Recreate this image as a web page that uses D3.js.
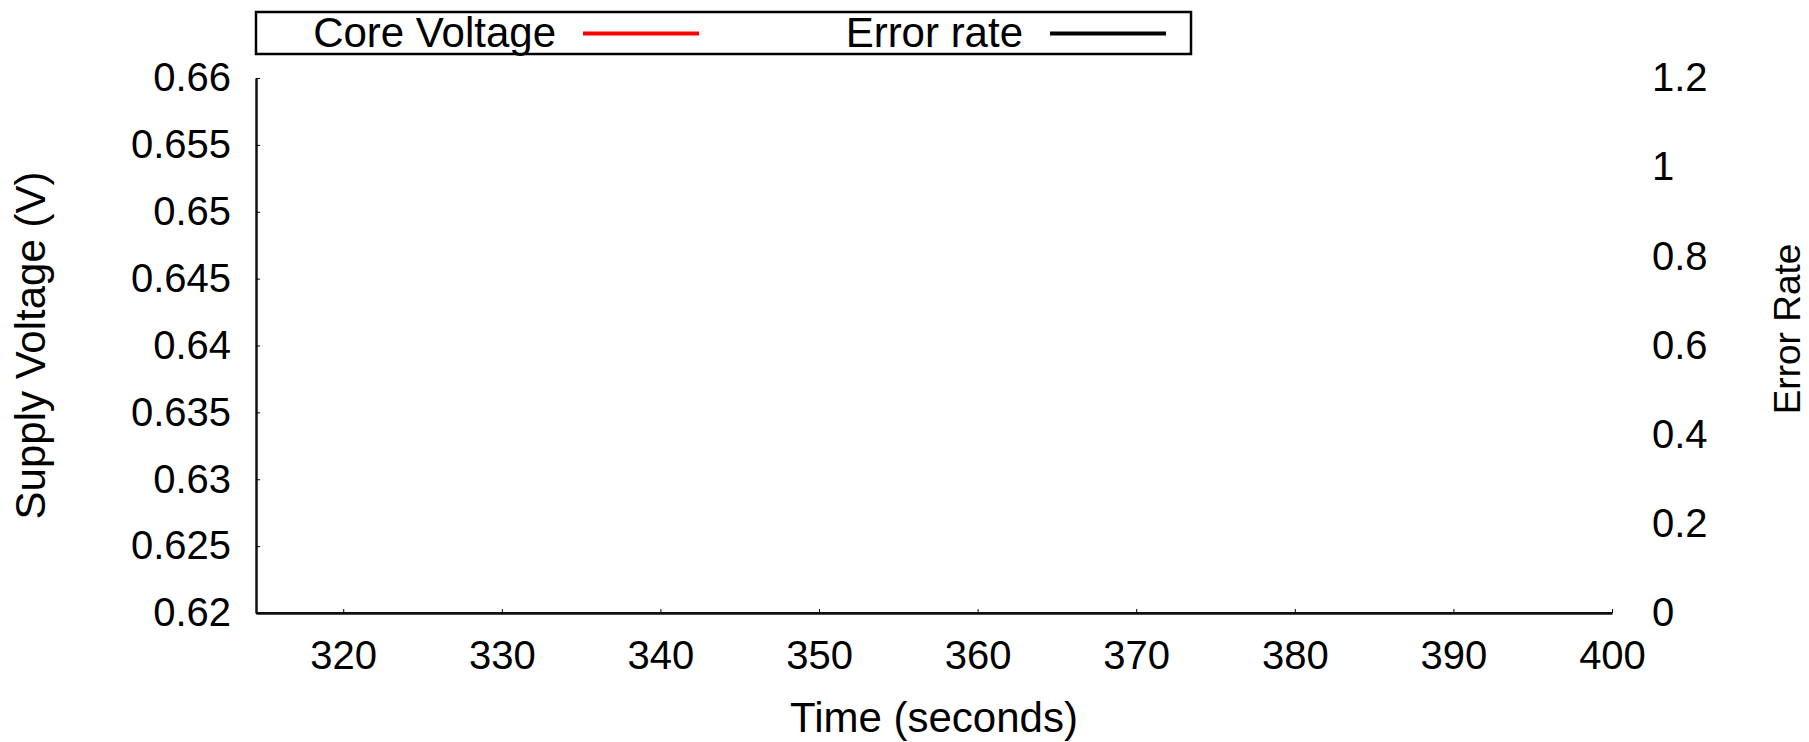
<!DOCTYPE html>
<html>
<head>
<meta charset="utf-8">
<script src="https://cdn.jsdelivr.net/npm/d3@7"></script>
<style>
  body { margin: 0; background: #fff; }
  text { font-family: "Liberation Sans", Arial, sans-serif; fill: #000; }
</style>
</head>
<body>
<svg id="chart"></svg>
<script>
// data (both series sit on the axes, nearly invisible)
var voltTime = [314.5, 314.5];
var voltValue = [0.655, 0.650];
var errTime = [314.5, 400];
var errValue = [0, 0];

var xTicks = [320, 330, 340, 350, 360, 370, 380, 390, 400];
var yLeftTicks = [0.62, 0.625, 0.63, 0.635, 0.64, 0.645, 0.65, 0.655, 0.66];
var yRightTicks = [0, 0.2, 0.4, 0.6, 0.8, 1, 1.2];

var legendNames = ["Core Voltage", "Error rate"];
var legendColors = ["#ff0000", "#000000"];

function drawChart(width, height){
    var svg = d3.select("#chart")
                .attr("width", width)
                .attr("height", height);

    var padding = {
        top: 78,
        right: width - 1612,
        bottom: height - 613,
        left: 256
    };
    var tickFs = 40;
    var titleFs = 42;

    var x = d3.scaleLinear()
              .domain([314.5, 400])
              .range([padding.left, width - padding.right]);
    var yL = d3.scaleLinear()
               .domain([0.62, 0.66])
               .range([height - padding.bottom, padding.top]);
    var yR = d3.scaleLinear()
               .domain([0, 1.2])
               .range([height - padding.bottom, padding.top]);

    svg.append("clipPath")
        .attr("id", "clip")
      .append("rect")
        .attr("x", padding.left)
        .attr("y", padding.top)
        .attr("width", x.range()[1] - padding.left)
        .attr("height", yL.range()[0] - padding.top);

    var plot = svg.append("g").attr("clip-path", "url(#clip)");

    var vLine = d3.line()
                  .x((d, i) => x(voltTime[i]))
                  .y(d => yL(d));
    plot.append("path")
        .datum(voltValue)
        .attr("fill", "none")
        .attr("stroke", "#ff0000")
        .attr("stroke-width", 2)
        .attr("d", vLine);

    var eLine = d3.line()
                  .x((d, i) => x(errTime[i]))
                  .y(d => yR(d));
    plot.append("path")
        .datum(errValue)
        .attr("fill", "none")
        .attr("stroke", "#000")
        .attr("stroke-width", 2)
        .attr("d", eLine);

    // bottom axis, ticks point inward
    var xAxis = svg.append("g")
        .attr("transform", "translate(0," + yL.range()[0] + ")")
        .call(d3.axisBottom(x).tickValues(xTicks).tickSizeInner(-4).tickSizeOuter(0).tickPadding(28));
    xAxis.select(".domain").attr("stroke", "#111").attr("stroke-width", 2.5);
    xAxis.selectAll("text").style("font-size", tickFs + "px").attr("fill", "#000");

    var yAxisL = svg.append("g")
        .attr("transform", "translate(" + padding.left + ",0)")
        .call(d3.axisLeft(yL).tickValues(yLeftTicks).tickFormat(d3.format("")).tickSizeInner(-4).tickSizeOuter(0).tickPadding(25));
    yAxisL.select(".domain").attr("stroke", "#111").attr("stroke-width", 2.5);
    yAxisL.selectAll("text").style("font-size", tickFs + "px").attr("fill", "#000");

    var yAxisR = svg.append("g")
        .attr("transform", "translate(" + x.range()[1] + ",0)")
        .call(d3.axisRight(yR).tickValues(yRightTicks).tickFormat(d3.format("")).tickSize(0).tickPadding(40));
    yAxisR.select(".domain").remove();
    yAxisR.selectAll("text").style("font-size", tickFs + "px").attr("fill", "#000");

    svg.append("text")
        .attr("x", (padding.left + x.range()[1]) / 2)
        .attr("y", 732)
        .style("text-anchor", "middle")
        .style("font-size", titleFs + "px")
        .text("Time (seconds)");

    svg.append("text")
        .attr("transform", "rotate(-90)")
        .attr("x", -(padding.top + yL.range()[0]) / 2)
        .attr("y", 45)
        .style("text-anchor", "middle")
        .style("font-size", titleFs + "px")
        .text("Supply Voltage (V)");

    svg.append("text")
        .attr("transform", "rotate(-90)")
        .attr("x", -329)
        .attr("y", 1800)
        .style("text-anchor", "middle")
        .style("font-size", "37px")
        .text("Error Rate");

    // legend
    var legend = svg.append("g");
    legend.append("rect")
        .attr("x", 256)
        .attr("y", 12)
        .attr("width", 935)
        .attr("height", 42)
        .attr("fill", "#fff")
        .attr("stroke", "#000")
        .attr("stroke-width", 2.5);

    var textEnd = [556, 1023];
    var item = legend.selectAll(".item")
        .data(legendNames)
        .enter().append("g")
        .classed("item", true);
    item.append("text")
        .attr("x", (d, i) => textEnd[i])
        .attr("y", 47)
        .style("text-anchor", "end")
        .style("font-size", titleFs + "px")
        .text(d => d);
    item.append("line")
        .attr("x1", (d, i) => textEnd[i] + 27)
        .attr("x2", (d, i) => textEnd[i] + 143)
        .attr("y1", 33.5)
        .attr("y2", 33.5)
        .attr("stroke", (d, i) => legendColors[i])
        .attr("stroke-width", 4);
}

drawChart(1809, 742);
</script>
</body>
</html>
